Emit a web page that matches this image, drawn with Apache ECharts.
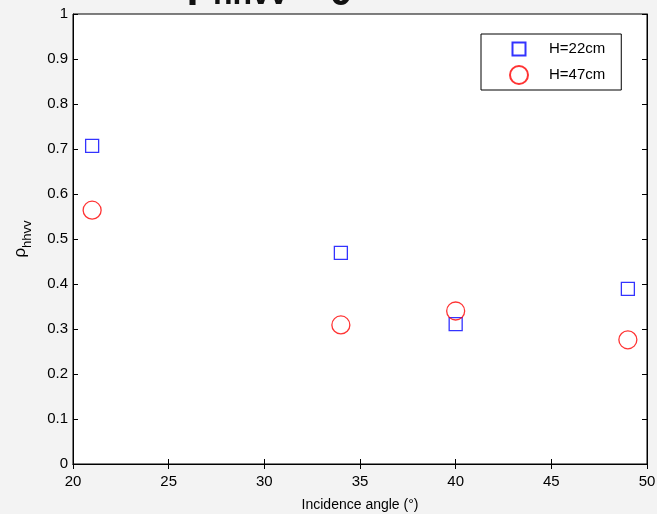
<!DOCTYPE html>
<html>
<head>
<meta charset="utf-8">
<script src="https://cdn.jsdelivr.net/npm/echarts@6/dist/echarts.min.js"></script>
<style>
  html, body { margin: 0; padding: 0; background: #f3f3f3; }
  #main { width: 657px; height: 514px; }
</style>
</head>
<body>
<div id="main"></div>
<script>
// incidence angle (deg) and correlation values
var angles = [21, 34, 40, 49]
var rho22 = [0.707, 0.469, 0.311, 0.389]
var rho47 = [0.564, 0.309, 0.340, 0.276]
var seriesNames = ['H=22cm', 'H=47cm']

function pairs(xs, ys) {
  var out = []
  for (var i = 0; i < xs.length; i++) out.push([xs[i], ys[i]])
  return out
}

var font = 'Liberation Sans, Arial, sans-serif'
var chart = echarts.init(document.getElementById('main'))

var option = {
  backgroundColor: '#f3f3f3',
  animation: false,
  title: {
    left: 182,
    top: -42,
    text: '{a|ρ}{b|hhvv}{c| - θ}',
    textStyle: {
      rich: {
        a: { fontFamily: font, fontSize: 42, fontWeight: 'bold', color: '#111' },
        b: { fontFamily: font, fontSize: 32, fontWeight: 'bold', color: '#111', verticalAlign: 'bottom', padding: [0, 0, -6, 0] },
        c: { fontFamily: font, fontSize: 46, fontWeight: 'bold', color: '#111', verticalAlign: 'bottom', padding: [0, 0, -10, 0] }
      }
    }
  },
  grid: {
    left: 73,
    right: 10,
    top: 14,
    bottom: 50,
    outerBoundsMode: 'none',
    containLabel: false,
    show: true,
    backgroundColor: '#fff',
    borderColor: '#000',
    borderWidth: 1
  },
  legend: {
    left: 481,
    top: 34,
    orient: 'vertical',
    backgroundColor: '#fff',
    borderColor: '#000',
    borderWidth: 1,
    padding: [5, 16, 5, 28],
    itemGap: 6,
    itemWidth: 18,
    itemHeight: 18,
    textStyle: { fontFamily: font, fontSize: 15, color: '#000', padding: [0, 0, 0, 16] },
    data: [
      { name: seriesNames[0], icon: 'path://M0,0M2.5,2.5L15.5,2.5L15.5,15.5L2.5,15.5ZM18,18' },
      { name: seriesNames[1], icon: 'circle' }
    ]
  },
  xAxis: [
    {
      type: 'value',
      min: 20,
      max: 50,
      interval: 5,
      name: 'Incidence angle (°)',
      nameLocation: 'middle',
      nameGap: 34,
      nameTextStyle: { fontFamily: font, fontSize: 14, color: '#000' },
      axisLine: { lineStyle: { color: '#000' } },
      axisTick: { inside: true, length: 5, lineStyle: { color: '#000' } },
      axisLabel: { fontFamily: font, fontSize: 15, color: '#000', margin: 10 },
      splitLine: { show: false }
    },
    {
      type: 'value',
      position: 'top',
      min: 20,
      max: 50,
      interval: 5,
      axisLine: { lineStyle: { color: '#000' } },
      axisTick: { inside: true, length: 5, lineStyle: { color: '#000' } },
      axisLabel: { show: false },
      splitLine: { show: false }
    }
  ],
  yAxis: [
    {
      type: 'value',
      min: 0,
      max: 1,
      interval: 0.1,
      name: '{a|ρ}{b|hhvv}',
      nameLocation: 'middle',
      nameGap: 44,
      nameTextStyle: {
        rich: {
          a: { fontFamily: font, fontSize: 17, color: '#000' },
          b: { fontFamily: font, fontSize: 13, color: '#000', verticalAlign: 'bottom', padding: [0, 0, -5, 0] }
        }
      },
      axisLine: { lineStyle: { color: '#000' } },
      axisTick: { inside: true, length: 5, lineStyle: { color: '#000' } },
      axisLabel: { fontFamily: font, fontSize: 15, color: '#000', margin: 5 },
      splitLine: { show: false }
    },
    {
      type: 'value',
      position: 'right',
      min: 0,
      max: 1,
      interval: 0.1,
      axisLine: { lineStyle: { color: '#000' } },
      axisTick: { inside: true, length: 5, lineStyle: { color: '#000' } },
      axisLabel: { show: false },
      splitLine: { show: false }
    }
  ],
  series: [
    {
      name: seriesNames[0],
      type: 'scatter',
      symbol: 'rect',
      symbolSize: 13,
      itemStyle: { color: 'rgba(0,0,0,0)', borderColor: '#0000ff', borderWidth: 1.3 },
      data: pairs(angles, rho22)
    },
    {
      name: seriesNames[1],
      type: 'scatter',
      symbol: 'circle',
      symbolSize: 18,
      itemStyle: { color: 'rgba(0,0,0,0)', borderColor: '#ff0000', borderWidth: 1.3 },
      data: pairs(angles, rho47)
    }
  ]
}

chart.setOption(option)
</script>
</body>
</html>
